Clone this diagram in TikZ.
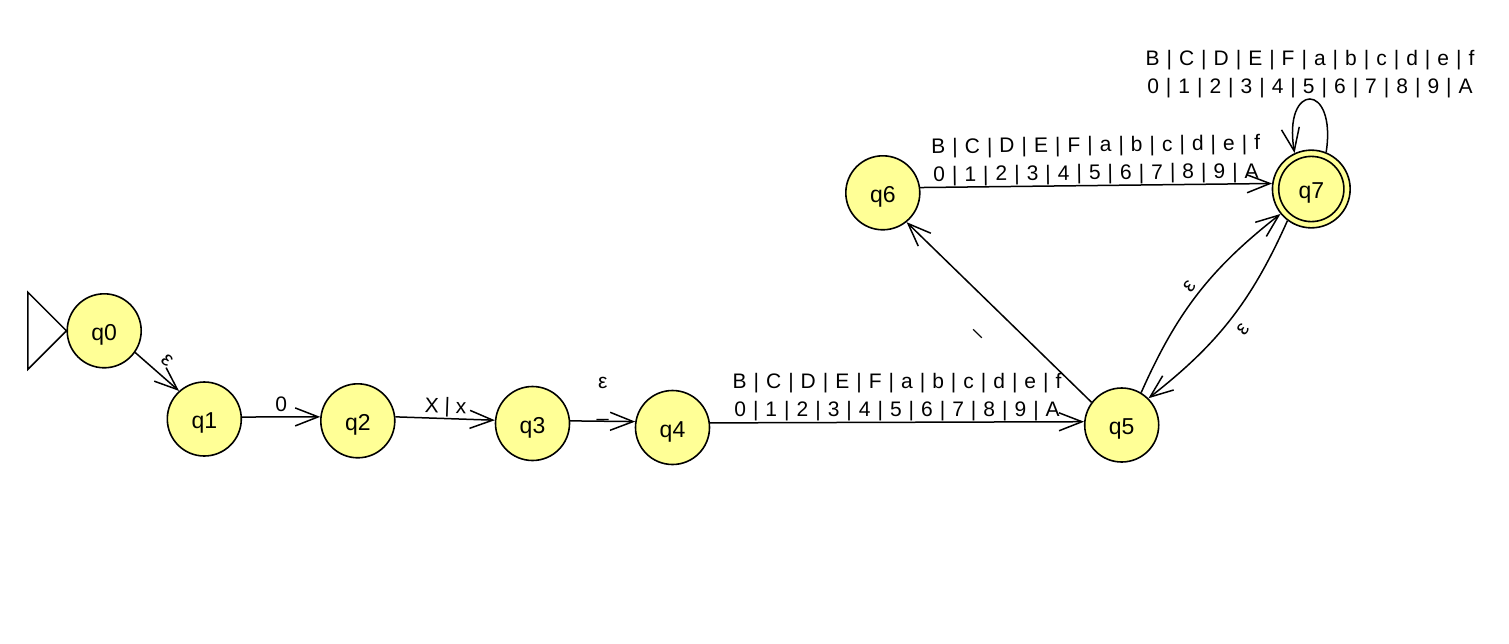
\documentclass[tikz,border=0pt]{standalone}
\usepackage{fontspec}
\setmainfont{Liberation Sans}
\usetikzlibrary{arrows.meta}
\definecolor{stfill}{RGB}{255,255,150}
\newcommand\vbr{\hspace{7pt}|\hspace{7pt}}
\newcommand\hexup{B\vbr C\vbr D\vbr E\vbr F\vbr a\vbr b\vbr c\vbr d\vbr e\vbr f}
\newcommand\hexdn{0\vbr 1\vbr 2\vbr 3\vbr 4\vbr 5\vbr 6\vbr 7\vbr 8\vbr 9\vbr A}
\begin{document}
\begin{tikzpicture}[x=1pt,y=-1pt,
  st/.style={circle, draw, line width=1.6pt, fill=stfill, minimum size=74pt, inner sep=0pt,
    font=\fontsize{23}{23}\selectfont, text height=24.5pt, text depth=4.8pt},
  tr/.style={-{Straight Barb[length=23pt,width=18pt]}, line width=1.5pt},
  lab/.style={font=\fontsize{21}{28}\selectfont, inner sep=0pt, text depth=0pt, align=center}]
\fill[white] (0,0) rectangle (1509,643);
\useasboundingbox (0,0) rectangle (1509,643);
\node[st] (q0) at (104.2,330.8) {q0};
\node[st] (q1) at (204.3,419) {q1};
\node[st] (q2) at (357.8,420.8) {q2};
\node[st] (q3) at (532.5,423.5) {q3};
\node[st] (q4) at (672.5,427.5) {q4};
\node[st] (q5) at (1121.7,425) {q5};
\node[st] (q6) at (882.8,192.8) {q6};
\node[st, minimum size=77.7pt] (q7) at (1311.3,189) {q7};
\draw[line width=1.6pt] (q7.center) circle[radius=32.6pt];
% initial marker
\draw[line width=1.5pt] (q0.west) -- ++(-38.5,-38.5) -- ++(0,77) -- cycle;
% transitions
\draw[tr] (q0.-35) -- node[lab, sloped, above=9pt] {ε} (q1.132);
\draw[tr] (q1.3) -- node[lab, above=5pt] {0} (q2.174);
\draw[tr] (q2.6) -- node[lab, sloped, above=5pt] {X | x} (q3.175);
\draw[tr] (q3.4) -- node[lab, above=4pt] {ε\\\_} (q4.171);
\draw[tr] (q4.7) -- node[lab, above=5.5pt] {\hexup\\\hexdn} (q5.175);
\draw[tr] (q5.143) -- node[lab, sloped, below=26pt, text height=0pt] {\_} (q6.-51);
\draw[tr] (q6.8) -- node[lab, sloped, above=5pt] {\hexup\\\hexdn} (q7.172);
\draw[tr] (q7.68) .. controls +(10.9,-71.1) and +(-12,-71.1) .. node[lab, above=5pt] {\hexup\\\hexdn} (q7.115);
\draw[tr] (q5.59) to[bend left=14] node[lab, sloped, above=5pt] {ε} (q7.219);
\draw[tr] (q7.233) to[bend left=14] node[lab, sloped, below=10pt, text height=10.6pt] {ε} (q5.45);
\end{tikzpicture}
\end{document}
